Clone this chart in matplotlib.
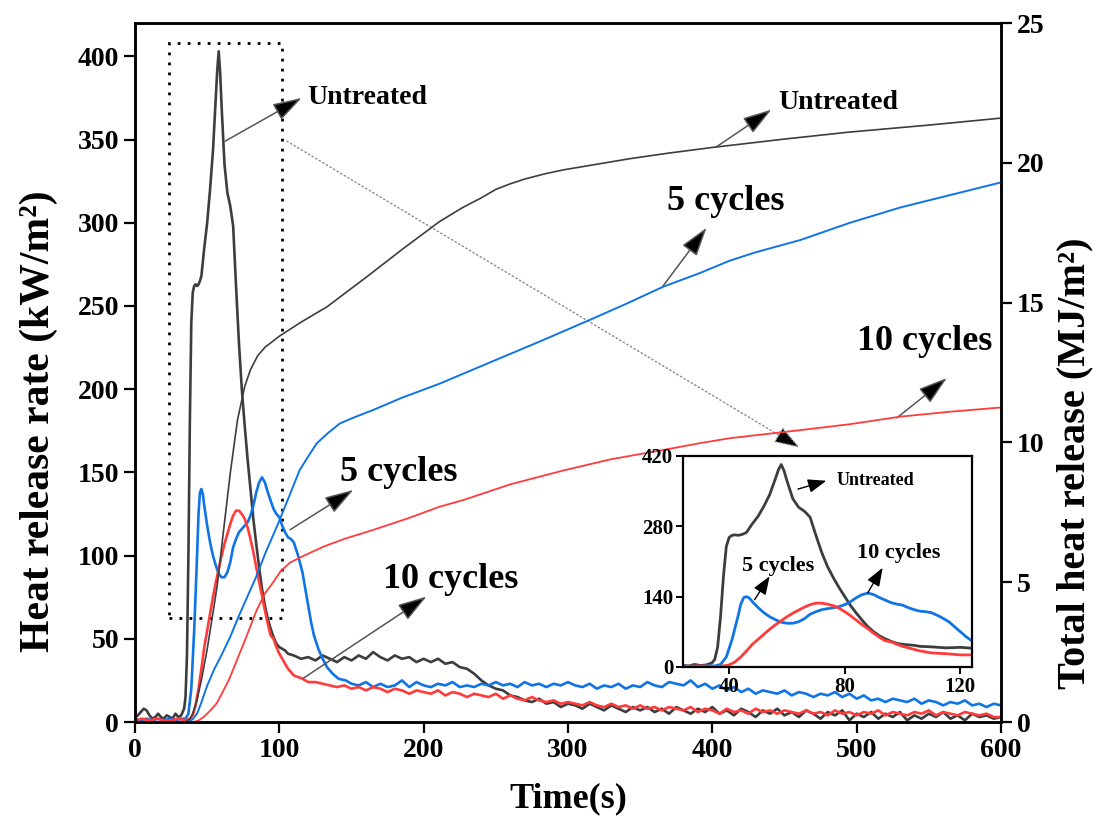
import matplotlib
matplotlib.use('Agg')
import matplotlib.pyplot as plt
from matplotlib.patches import Rectangle

plt.rcParams['font.family'] = ['Liberation Serif', 'DejaVu Serif']
plt.rcParams['font.weight'] = 'bold'
plt.rcParams['axes.labelweight'] = 'bold'

# heat release rate (kW/m2), left axis
hrr_u_t = [0, 2, 4, 6, 8, 10, 12, 14, 16, 18, 20, 22, 24, 26, 28, 30, 32, 34,
           35, 36, 37, 38, 39, 40, 41, 42, 43, 44, 45, 46, 48, 50, 52, 54, 56,
           57, 58, 59, 60, 62, 64, 66, 68, 70, 72, 74, 76, 78, 80, 82, 84, 86,
           88, 90, 92, 94, 96, 98, 100, 102, 104, 106] + list(range(110, 601, 5))
hrr_u = [3, 4, 6, 8, 7, 4, 2, 3, 5, 3, 2, 4, 3, 2, 5, 3, 4, 8,
         15, 40, 100, 180, 240, 258, 262, 263, 262, 263, 265, 268, 285, 300, 320, 343, 375,
         392, 403, 390, 370, 335, 318, 310, 298, 262, 228, 200, 178, 158, 140, 122, 107, 93,
         80, 70, 62, 56, 51, 47, 45, 44, 43, 41,
         40, 38, 39, 37, 40, 38, 36, 39, 37, 40,
         38, 42, 39, 37, 40, 38, 39, 36, 38, 36,
         38, 35, 36, 33, 32, 29, 25, 22, 20, 19,
         16, 15, 13, 12, 14, 11, 12, 9, 11, 10,
         8, 11, 9, 7, 10, 8, 6, 9, 7, 9,
         6, 8, 5, 9, 7, 5, 8, 6, 9, 5,
         7, 4, 8, 6, 3, 7, 5, 8, 4, 6,
         3, 7, 5, 2, 6, 4, 7, 1, 5, 3,
         6, 2, 5, 3, 6, 1, 4, 2, 5, 3,
         6, 2, 4, 1, 5, 3, 4, 2, 3]

hrr_5_t = [0, 4, 8, 12, 16, 20, 24, 28, 32, 35, 37, 39, 41, 43, 44, 45, 46, 47, 48,
           50, 52, 54, 56, 58, 60, 62, 64, 66, 68, 70, 72, 74, 76, 78, 80, 82, 84,
           86, 88, 90, 92, 94, 96, 98, 100, 102, 104, 106, 108, 110,
           113, 116, 118, 120, 122, 124, 127, 130, 133, 137, 141, 146] + list(range(150, 601, 5))
hrr_5 = [2, 1, 2, 1, 2, 1, 2, 1, 2, 2, 5, 20, 55, 100, 125, 138, 140, 137, 130,
         118, 108, 100, 94, 89, 87, 87, 90, 96, 105, 110, 114, 116, 118, 120, 124, 130, 138,
         144, 147, 144, 138, 133, 128, 125, 123, 118, 114, 111, 110, 108,
         100, 90, 80, 70, 60, 52, 44, 38, 33, 29, 26, 25,
         23, 22, 24, 21, 23, 21, 22, 25, 21, 24,
         22, 21, 23, 22, 24, 21, 22, 21, 23, 22,
         24, 22, 23, 21, 24, 22, 23, 21, 23, 22,
         24, 22, 21, 23, 20, 22, 21, 23, 20, 22,
         21, 24, 22, 21, 24, 23, 22, 25, 21, 23,
         20, 22, 19, 21, 18, 20, 17, 19, 18, 17,
         19, 16, 18, 17, 15, 17, 16, 18, 15, 17,
         14, 16, 13, 14, 12, 14, 13, 12, 14, 11,
         13, 12, 10, 12, 11, 13, 10, 11, 9, 11,
         10]

hrr_10_t = [0, 5, 10, 15, 20, 25, 30, 35, 38, 40, 42, 44, 46, 48, 50, 52, 54, 56, 58,
            60, 62, 64, 66, 68, 70, 72, 74, 76, 78, 80, 82, 84, 86, 88, 90, 92, 94,
            96, 98, 100, 102, 104, 106, 108, 110, 113, 116, 120] + list(range(125, 601, 5))
hrr_10 = [1, 2, 1, 2, 1, 1, 2, 1, 2, 4, 10, 20, 32, 45, 55, 65, 75, 84, 92,
          100, 107, 113, 119, 124, 127, 127, 125, 122, 117, 110, 102, 93, 84, 76, 67, 59, 52,
          50, 45, 41, 38, 35, 32, 30, 28, 27, 26, 24,
          24, 23, 22, 21, 22, 20, 21, 19, 21, 20,
          18, 20, 19, 17, 19, 18, 17, 19, 16, 18,
          17, 15, 17, 16, 15, 17, 14, 16, 14, 13,
          15, 13, 12, 13, 11, 12, 11, 10, 12, 10,
          9, 11, 9, 10, 8, 10, 8, 9, 7, 9,
          8, 7, 9, 6, 8, 7, 5, 8, 6, 7,
          5, 8, 6, 7, 5, 7, 6, 5, 7, 5,
          6, 4, 7, 5, 6, 4, 6, 5, 7, 4,
          6, 5, 4, 6, 5, 7, 4, 6, 5, 4,
          6, 5, 4, 5, 3, 3]

# total heat release (MJ/m2), right axis
thr_u_t = [0, 35, 38, 40, 43, 46, 50, 54, 57, 61, 66, 71, 76, 80, 85, 90, 100, 115,
           133, 160, 185, 211, 227, 240, 250, 260, 270, 285, 297, 320, 343, 370, 400, 450,
           495, 550, 600]
thr_u = [0, 0, 0.1, 0.3, 0.8, 1.5, 2.6, 3.9, 4.9, 6.7, 8.9, 10.8, 12.0, 12.6, 13.1, 13.4, 13.8, 14.3,
         14.85, 15.9, 16.9, 17.9, 18.4, 18.75, 19.05, 19.25, 19.42, 19.62, 19.75, 19.95, 20.15,
         20.35, 20.55, 20.85, 21.1, 21.35, 21.6]

thr_5_t = [0, 37, 40, 43, 46, 50, 55, 60, 66, 72, 78, 84, 90, 95, 100, 107, 114, 120, 126,
           134, 142, 152, 165, 185, 211, 250, 280, 315, 340, 366, 391, 412, 430, 461, 495,
           530, 565, 600]
thr_5 = [0, 0, 0.1, 0.3, 0.7, 1.3, 1.9, 2.4, 3.05, 3.8, 4.5, 5.2, 6.0, 6.6, 7.2, 8.1, 9.0, 9.5,
         9.97, 10.35, 10.68, 10.9, 11.16, 11.6, 12.1, 12.95, 13.6, 14.38, 14.95, 15.57, 16.05,
         16.5, 16.8, 17.24, 17.85, 18.4, 18.85, 19.3]

thr_10_t = [0, 40, 44, 48, 52, 56.6, 60, 65, 70.5, 76, 84.3, 90, 95.8, 101, 107.4, 115, 130.5,
            145, 165, 190, 211, 227.5, 260, 297, 330, 366, 391, 412, 461, 495, 530, 565, 600]
thr_10 = [0, 0, 0.05, 0.2, 0.4, 0.67, 1.0, 1.5, 2.2, 2.9, 4.0, 4.6, 5.0, 5.4, 5.7, 5.9, 6.27,
          6.55, 6.87, 7.3, 7.7, 7.94, 8.5, 9.0, 9.4, 9.73, 9.97, 10.15, 10.44, 10.65, 10.92,
          11.1, 11.25]

c_u = '#3d3d3d'
c_5 = '#0f74e6'
c_10 = '#ff3b3b'

fig = plt.figure(figsize=(11.03, 8.23), dpi=100)
ax = fig.add_axes([0.1224, 0.1227, 0.7851, 0.8493])
ax2 = ax.twinx()

ax.plot(hrr_u_t, hrr_u, color=c_u, lw=1.9)
ax.plot(hrr_5_t, hrr_5, color=c_5, lw=1.9)
ax.plot(hrr_10_t, hrr_10, color=c_10, lw=1.9)
ax2.plot(thr_u_t, thr_u, color=c_u, lw=1.2)
ax2.plot(thr_5_t, thr_5, color=c_5, lw=1.4)
ax2.plot(thr_10_t, thr_10, color=c_10, lw=1.3)

ax.set_xlim(0, 600)
ax.set_ylim(0, 420)
ax2.set_ylim(0, 25)
ax.set_xticks(range(0, 601, 100))
ax.set_yticks(range(0, 401, 50))
ax2.set_yticks(range(0, 26, 5))

for a in (ax, ax2):
    for s in a.spines.values():
        s.set_linewidth(1.8)
    a.tick_params(direction='out', length=8, width=1.6, labelsize=20)
for lab in ax.get_xticklabels() + ax.get_yticklabels() + ax2.get_yticklabels():
    lab.set_fontweight('bold')

ax.set_xlabel('Time(s)', fontsize=26, fontweight='bold', labelpad=14)
ax.set_ylabel('Heat release rate (kW/m²)', fontsize=30, fontweight='bold')
ax2.set_ylabel('Total heat release (MJ/m²)', fontsize=29, fontweight='bold')
ax.yaxis.set_label_coords(-0.089, 0.43)
ax2.yaxis.set_label_coords(1.064, 0.37)

# zoom box and connector
ax.add_patch(Rectangle((23.5, 62.5), 78.5, 345.5, fill=False, ec='black',
                       lw=2.0, ls=(0, (1, 2.6))))
ax.annotate('', xy=(460.8, 164.8), xytext=(105.3, 349),
            arrowprops=dict(arrowstyle='-|>,head_length=0.9,head_width=0.3',
                            ls=(0, (1, 2)), ec='#888888', fc='black', lw=1.0,
                            mutation_scale=18, shrinkA=0, shrinkB=0))

arrow = dict(arrowstyle='-|>,head_length=0.9,head_width=0.28', ec='#555555', fc='black',
             lw=1.1, mutation_scale=20, shrinkA=0, shrinkB=0)
notes = [('Untreated', (119, 375), (62.4, 349), (115.5, 375), 20),
         ('Untreated', (445.6, 372), (403, 345.7), (441, 368), 20),
         ('5 cycles', (368.5, 313), (365, 261), (396, 297), 26),
         ('10 cycles', (500, 228.7), (527.8, 182.7), (562.5, 206.7), 26),
         ('5 cycles', (142, 150), (107.4, 115.5), (151.3, 139.5), 26),
         ('10 cycles', (172, 85.4), (116.6, 26.3), (202, 75.4), 26)]
for txt, pos, tail, head, fs in notes:
    ax.annotate('', xy=head, xytext=tail, arrowprops=arrow)
    ax.text(pos[0], pos[1], txt, fontsize=fs, fontweight='bold', ha='left', va='center')

# inset
ins = fig.add_axes([0.6192, 0.1896, 0.2620, 0.2564])
ins.plot(hrr_u_t, hrr_u, color=c_u, lw=2.0)
ins.plot(hrr_5_t, hrr_5, color=c_5, lw=2.0)
ins.plot(hrr_10_t, hrr_10, color=c_10, lw=2.0)
ins.set_xlim(24, 124)
ins.set_ylim(0, 420)
ins.set_xticks([40, 80, 120])
ins.set_yticks([0, 140, 280, 420])
for s in ins.spines.values():
    s.set_linewidth(1.6)
ins.tick_params(direction='out', length=5, width=1.4, labelsize=15, pad=2)
for lab in ins.get_xticklabels() + ins.get_yticklabels():
    lab.set_fontweight('bold')

arrow_s = dict(arrowstyle='-|>,head_length=0.8,head_width=0.3', ec='black', fc='black',
               lw=1.0, mutation_scale=14, shrinkA=0, shrinkB=0)
ins.annotate('', xy=(73.6, 370.6), xytext=(63.8, 354), arrowprops=arrow_s)
ins.text(77, 370.6, 'Untreated', fontsize=13, fontweight='bold', ha='left', va='center')
ins.annotate('', xy=(54, 180.6), xytext=(48.8, 134), arrowprops=arrow_s)
ins.text(56.9, 200.6, '5 cycles', fontsize=16, fontweight='bold', ha='center', va='center')
ins.annotate('', xy=(93.1, 197.4), xytext=(87.9, 147.4), arrowprops=arrow_s)
ins.text(98.8, 227.4, '10 cycles', fontsize=16, fontweight='bold', ha='center', va='center')

fig.savefig('out.png', dpi=100)
